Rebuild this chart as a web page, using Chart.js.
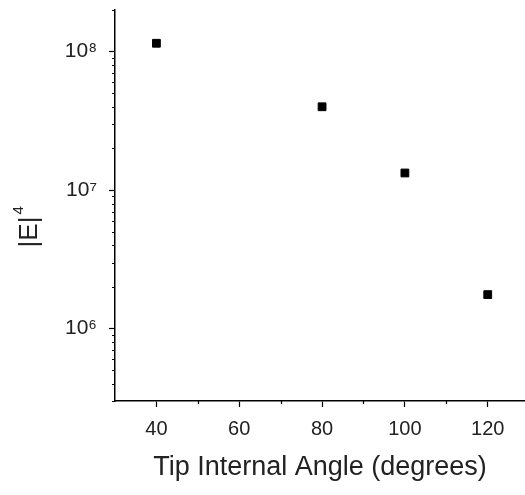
<!DOCTYPE html>
<html>
<head>
<meta charset="utf-8">
<script src="https://cdn.jsdelivr.net/npm/chart.js@4"></script>
<style>
  body { margin: 0; background: #fff; }
  #wrap { width: 525px; height: 495px; }
</style>
</head>
<body>
<div id="wrap"><canvas id="enhChart" width="525" height="495"></canvas></div>
<script>
// Field enhancement vs. tip angle
const angles = [40, 80, 100, 120];
const enhancement = [1.15e8, 4.0e7, 1.33e7, 1.76e6];
const angleTicks = [40, 60, 80, 100, 120];
const angleMinorTicks = [50, 70, 90, 110];
const enhTicks = [1e6, 1e7, 1e8];

const sup = { '4': '\u2074', '5': '\u2075', '6': '\u2076', '7': '\u2077', '8': '\u2078', '9': '\u2079' };
const textColor = '#222';
const fontFamily = '"Liberation Sans", Arial, sans-serif';

// short minor ticks + the rotated |E|^4 title
const extras = {
    id: 'extras',
    afterDraw(chart) {
        const c = chart.ctx;
        const xs = chart.scales.x, ys = chart.scales.y;
        c.save();
        c.strokeStyle = '#000';
        c.lineWidth = 1.2;
        c.beginPath();
        for (let n = 5; n <= 8; n++) {
            for (let k = 2; k <= 9; k++) {
                const v = k * Math.pow(10, n);
                if (v < ys.min || v > ys.max) continue;
                const py = Math.round(ys.getPixelForValue(v)) + 0.5;
                c.moveTo(xs.left - 3, py);
                c.lineTo(xs.left, py);
            }
        }
        angleMinorTicks.forEach(a => {
            const px = Math.round(xs.getPixelForValue(a)) + 0.5;
            c.moveTo(px, ys.bottom);
            c.lineTo(px, ys.bottom + 3);
        });
        c.stroke();

        // y title
        c.translate(30, 228);
        c.rotate(-Math.PI / 2);
        c.fillStyle = textColor;
        c.textBaseline = 'middle';
        c.font = '26px ' + fontFamily;
        const main = '|E|';
        const w = c.measureText(main).width;
        c.textAlign = 'left';
        c.fillText(main, -w / 2 - 4, 0);
        c.font = '15px ' + fontFamily;
        c.fillText('4', w / 2 - 2, -11);
        c.restore();
    }
};

const ctx = document.getElementById('enhChart').getContext('2d');
const enhChart = new Chart(ctx, {
    type: 'scatter',
    data: {
        datasets: [{
            data: angles.map((a, i) => ({ x: a, y: enhancement[i] })),
            pointStyle: 'rect',
            pointRadius: 5.5,
            backgroundColor: '#000',
            borderColor: '#000',
            borderWidth: 1
        }]
    },
    options: {
        responsive: false,
        animation: false,
        layout: { autoPadding: false, padding: { top: 10, right: 0, left: 0, bottom: 0 } },
        plugins: { legend: { display: false }, tooltip: { enabled: false } },
        scales: {
            x: {
                type: 'linear',
                min: 30,
                max: 129,
                afterBuildTicks: s => { s.ticks = angleTicks.map(v => ({ value: v })); },
                afterFit: s => { s.height = 94; s.paddingLeft = 0; s.paddingRight = 0; },
                grid: { drawOnChartArea: false, tickLength: 6, color: '#000', tickWidth: 1.2 },
                border: { color: '#000', width: 1.5 },
                ticks: { padding: 10, color: textColor, font: { family: fontFamily, size: 20 } },
                title: {
                    display: true,
                    text: 'Tip Internal Angle (degrees)',
                    color: textColor,
                    font: { family: fontFamily, size: 27 },
                    padding: { top: 0, bottom: 11 }
                }
            },
            y: {
                type: 'logarithmic',
                min: 3e5,
                max: 2e8,
                afterBuildTicks: s => { s.ticks = enhTicks.map(v => ({ value: v })); },
                afterFit: s => { s.width = 115; s.paddingTop = 0; s.paddingBottom = 0; },
                grid: { drawOnChartArea: false, tickLength: 6, color: '#000', tickWidth: 1.2 },
                border: { color: '#000', width: 1.5 },
                ticks: {
                    padding: 12,
                    color: textColor,
                    font: { family: fontFamily, size: 21 },
                    callback: v => '10' + sup[String(Math.round(Math.log10(v)))]
                }
            }
        }
    },
    plugins: [extras]
});
</script>
</body>
</html>
